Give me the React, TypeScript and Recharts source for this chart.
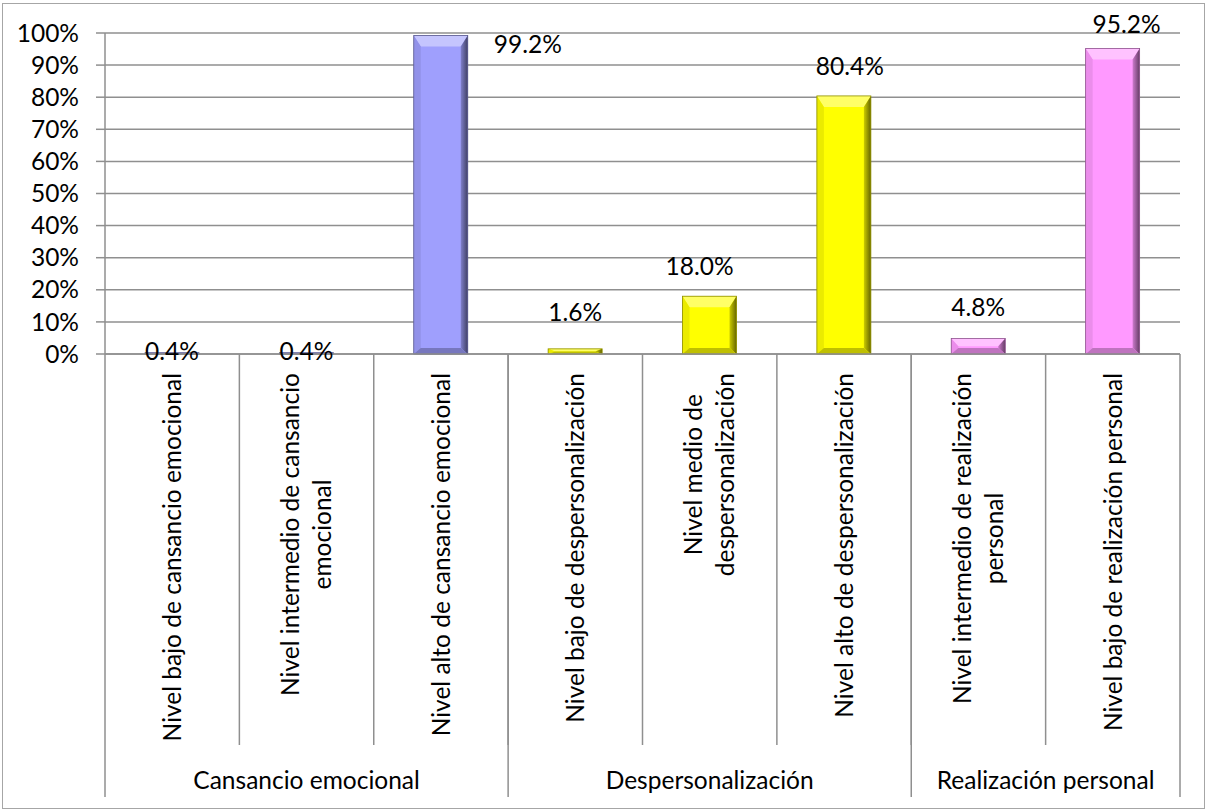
import { BarChart, Bar, XAxis, YAxis, CartesianGrid, LabelList } from "recharts";

// categories, their group on the second axis row, and the percentages
const categories = [
  "Nivel bajo de cansancio emocional",
  "Nivel intermedio de cansancio\nemocional",
  "Nivel alto de cansancio emocional",
  "Nivel bajo de despersonalización",
  "Nivel medio de\ndespersonalización",
  "Nivel alto de despersonalización",
  "Nivel intermedio de realización\npersonal",
  "Nivel bajo de realización personal",
];
const groups = [
  "Cansancio emocional",
  "Cansancio emocional",
  "Cansancio emocional",
  "Despersonalización",
  "Despersonalización",
  "Despersonalización",
  "Realización personal",
  "Realización personal",
];
const percentages = [0.4, 0.4, 99.2, 1.6, 18.0, 80.4, 4.8, 95.2];
const yTicks = [0, 10, 20, 30, 40, 50, 60, 70, 80, 90, 100];

const rows = categories.map((category, i) => ({
  category,
  group: groups[i],
  value: percentages[i],
}));

const GROUP_COLORS: Record<string, string> = {
  "Cansancio emocional": "#9f9ffd",
  "Despersonalización": "#ffff00",
  "Realización personal": "#ff99ff",
};

// manual label nudges (dx, dy from top centre of the bar), like the moved excel labels
const LABEL_NUDGE = [
  [0, -1],
  [0, -1],
  [87, 9],
  [0, -37],
  [-10, -30],
  [6, -30],
  [0, -31],
  [14, -24],
];

const W = 1207;
const H = 810;
const FONT = "Lato, 'Open Sans', sans-serif";
const FONT_SIZE = 24.5;
const GRID = "#8f8f8f";
const Y_AXIS_W = 105;
const CAT_AXIS_H = 391;
const GROUP_AXIS_H = 52;
const MARGIN = { top: 33, right: 27, left: 0, bottom: 13 };
const PLOT_LEFT = MARGIN.left + Y_AXIS_W;
const PLOT_RIGHT = W - MARGIN.right;
const PLOT_BOTTOM = H - MARGIN.bottom - GROUP_AXIS_H - CAT_AXIS_H;
const CAT_BOTTOM = PLOT_BOTTOM + CAT_AXIS_H;
const GROUP_BOTTOM = CAT_BOTTOM + GROUP_AXIS_H;
const BAND = (PLOT_RIGHT - PLOT_LEFT) / categories.length;
const LABEL_TOP = PLOT_BOTTOM + 19;
const LINE_H = 32;

let ctx: CanvasRenderingContext2D | null = null;
function measure(text: string) {
  if (!ctx) {
    ctx = document.createElement("canvas").getContext("2d");
  }
  if (!ctx) return text.length * FONT_SIZE * 0.48;
  ctx.font = `${FONT_SIZE}px Lato`;
  return ctx.measureText(text).width;
}

function mix(hex: string, target: string, t: number) {
  const a = parseInt(hex.slice(1), 16);
  const b = parseInt(target.slice(1), 16);
  const ch = (v: number, s: number) => (v >> s) & 255;
  const c = [16, 8, 0].map((s) => Math.round(ch(a, s) * (1 - t) + ch(b, s) * t));
  return `rgb(${c[0]},${c[1]},${c[2]})`;
}

function BevelBar(props: any) {
  const { x, y, width: w, height: h, payload, index } = props;
  if (!h || h <= 0) return null;
  const base = GROUP_COLORS[payload.group];
  const bx = Math.min(7, w / 4);
  const by = Math.min(11, h / 2);
  const bb = Math.min(6, h / 2);
  const r = x + w;
  const b = y + h;
  const gid = `side-${index}`;
  return (
    <g>
      <defs>
        <linearGradient id={gid} x1="0" x2="1" y1="0" y2="0">
          <stop offset="0%" stopColor={mix(base, "#000000", 0.2)} />
          <stop offset="100%" stopColor={mix(base, "#000000", 0.6)} />
        </linearGradient>
      </defs>
      <rect x={x} y={y} width={w} height={h} fill={base} />
      <polygon
        points={`${x},${y} ${r},${y} ${r - bx},${y + by} ${x + bx},${y + by}`}
        fill={mix(base, "#ffffff", 0.4)}
      />
      <polygon
        points={`${x},${y} ${x + bx},${y + by} ${x + bx},${b - bb} ${x},${b}`}
        fill={mix(base, "#000000", 0.08)}
      />
      <polygon
        points={`${r},${y} ${r},${b} ${r - bx},${b - bb} ${r - bx},${y + by}`}
        fill={`url(#${gid})`}
      />
      <polygon
        points={`${x},${b} ${x + bx},${b - bb} ${r - bx},${b - bb} ${r},${b}`}
        fill={mix(base, "#000000", 0.25)}
      />
      <rect
        x={x}
        y={y}
        width={w}
        height={h}
        fill="none"
        stroke={mix(base, "#000000", 0.45)}
        strokeWidth={0.8}
      />
    </g>
  );
}

function CategoryTick(props: any) {
  const { x, index, payload } = props;
  const lines = String(payload.value).split("\n");
  const maxW = Math.max(...lines.map(measure));
  const cy = LABEL_TOP + maxW / 2;
  return (
    <g>
      {index > 0 && (
        <line
          x1={x - BAND / 2}
          x2={x - BAND / 2}
          y1={PLOT_BOTTOM}
          y2={CAT_BOTTOM}
          stroke={GRID}
          strokeWidth={1.5}
        />
      )}
      {lines.map((ln, i) => {
        const lx = x + (i - (lines.length - 1) / 2) * LINE_H;
        return (
          <text
            key={i}
            x={lx}
            y={cy}
            transform={`rotate(-90 ${lx} ${cy})`}
            textAnchor="middle"
            dy="0.355em"
            fill="#000"
            fontSize={FONT_SIZE}
            fontFamily={FONT}
          >
            {ln}
          </text>
        );
      })}
    </g>
  );
}

function GroupTick(props: any) {
  const { x, index, payload } = props;
  const g = payload.value;
  const first = index === 0 || groups[index - 1] !== g;
  const last = index === groups.length - 1;
  if (!first && !last) return null;
  const n = groups.filter((v) => v === g).length;
  const cx = x + ((n - 1) / 2) * BAND;
  const cy = CAT_BOTTOM + 35;
  return (
    <g>
      {first && (
        <>
          <line
            x1={x - BAND / 2}
            x2={x - BAND / 2}
            y1={PLOT_BOTTOM}
            y2={GROUP_BOTTOM}
            stroke={GRID}
            strokeWidth={1.5}
          />
          <text
            x={cx}
            y={cy}
            dy="0.355em"
            textAnchor="middle"
            fill="#000"
            fontSize={FONT_SIZE}
            fontFamily={FONT}
          >
            {g}
          </text>
        </>
      )}
      {last && (
        <line
          x1={x + BAND / 2}
          x2={x + BAND / 2}
          y1={PLOT_BOTTOM}
          y2={GROUP_BOTTOM}
          stroke={GRID}
          strokeWidth={1.5}
        />
      )}
    </g>
  );
}

function ValueLabel(props: any) {
  const { x, y, width, value, index } = props;
  const [dx, dy] = LABEL_NUDGE[index] || [0, -30];
  return (
    <text
      x={x + width / 2 + dx}
      y={y + dy}
      dy="0.355em"
      textAnchor="middle"
      fill="#000"
      fontSize={FONT_SIZE}
      fontFamily={FONT}
    >
      {`${Number(value).toFixed(1)}%`}
    </text>
  );
}

export default function App() {
  return (
    <div
      style={{
        position: "absolute",
        left: 0,
        top: 0,
        width: W,
        height: H,
        background: "#fff",
        fontFamily: FONT,
      }}
    >
      <div
        style={{
          position: "absolute",
          left: 2,
          top: 3,
          width: 1203,
          height: 806,
          boxSizing: "border-box",
          border: "1px solid #a6a6a6",
        }}
      />
      <BarChart width={W} height={H} data={rows} margin={MARGIN}>
        <CartesianGrid vertical={false} stroke={GRID} strokeWidth={1.5} />
        <YAxis
          type="number"
          domain={[0, 100]}
          ticks={yTicks}
          interval={0}
          width={Y_AXIS_W}
          tickSize={9}
          tickMargin={17}
          tickFormatter={(v) => `${v}%`}
          axisLine={{ stroke: GRID, strokeWidth: 1.5 }}
          tickLine={{ stroke: GRID, strokeWidth: 1.5 }}
          tick={{ fill: "#000", fontSize: FONT_SIZE, fontFamily: FONT }}
        />
        <XAxis
          dataKey="category"
          height={CAT_AXIS_H}
          interval={0}
          tickLine={false}
          axisLine={{ stroke: GRID, strokeWidth: 1.5 }}
          tick={CategoryTick}
        />
        <XAxis
          xAxisId="grp"
          dataKey="group"
          height={GROUP_AXIS_H}
          interval={0}
          tickLine={false}
          axisLine={false}
          tick={GroupTick}
        />
        <Bar dataKey="value" barSize={54} shape={BevelBar} isAnimationActive={false}>
          <LabelList dataKey="value" content={ValueLabel} />
        </Bar>
      </BarChart>
    </div>
  );
}
